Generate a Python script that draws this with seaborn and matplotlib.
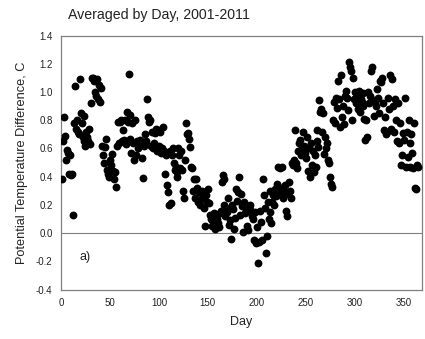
import numpy as np
import pandas as pd
import matplotlib
matplotlib.use("Agg")
import matplotlib.pyplot as plt
import seaborn as sns

values = [
    0.38, 0.65, 0.82, 0.69, 0.52, 0.59, 0.57, 0.42, 0.55, 0.41,
    0.42, 0.13, 0.78, 1.04, 0.74, 0.80, 0.72, 0.70, 1.09, 0.85,
    0.78, 0.68, 0.83, 0.65, 0.62, 0.72, 0.68, 0.65, 0.74, 0.63,
    0.92, 1.10, 1.10, 1.08, 1.00, 0.97, 1.09, 0.95, 1.05, 0.93,
    1.03, 0.62, 0.55, 0.50, 0.61, 0.67, 0.45, 0.42, 0.40, 0.52,
    0.48, 0.56, 0.44, 0.38, 0.43, 0.33, 0.62, 0.79, 0.64, 0.79,
    0.80, 0.65, 0.73, 0.66, 0.80, 0.63, 0.86, 0.79, 1.13, 0.84,
    0.67, 0.57, 0.78, 0.64, 0.52, 0.80, 0.55, 0.65, 0.60, 0.63,
    0.66, 0.64, 0.53, 0.39, 0.62, 0.70, 0.65, 0.95, 0.82, 0.79,
    0.80, 0.62, 0.72, 0.60, 0.64, 0.71, 0.74, 0.58, 0.73, 0.62,
    0.72, 0.57, 0.60, 0.75, 0.58, 0.42, 0.55, 0.34, 0.29, 0.20,
    0.58, 0.21, 0.55, 0.60, 0.50, 0.45, 0.47, 0.40, 0.43, 0.60,
    0.55, 0.46, 0.58, 0.45, 0.30, 0.25, 0.52, 0.78, 0.70, 0.71,
    0.67, 0.61, 0.47, 0.46, 0.30, 0.38, 0.25, 0.38, 0.32, 0.22,
    0.29, 0.20, 0.24, 0.30, 0.26, 0.18, 0.05, 0.27, 0.22, 0.31,
    0.21, 0.13, 0.10, 0.05, 0.08, 0.14, 0.03, 0.12, 0.10, 0.07,
    0.04, 0.14, 0.16, 0.36, 0.41, 0.38, 0.20, 0.12, 0.18, 0.15,
    0.25, 0.06, 0.09, -0.04, 0.20, 0.17, 0.03, 0.11, 0.31, 0.23,
    0.29, 0.40, 0.13, 0.28, 0.19, 0.01, 0.22, 0.14, 0.16, 0.05,
    0.02, 0.18, 0.20, 0.16, 0.12, 0.10, -0.05, 0.15, -0.07, 0.04,
    -0.21, -0.06, 0.16, 0.08, -0.05, 0.38, 0.27, 0.18, -0.14, -0.02,
    0.22, 0.10, 0.30, 0.15, 0.07, 0.22, 0.27, 0.20, 0.31, 0.26,
    0.35, 0.47, 0.29, 0.46, 0.32, 0.47, 0.25, 0.30, 0.34, 0.16,
    0.12, 0.28, 0.36, 0.30, 0.25, 0.50, 0.48, 0.52, 0.73, 0.50,
    0.46, 0.58, 0.64, 0.66, 0.55, 0.60, 0.72, 0.62, 0.57, 0.53,
    0.68, 0.44, 0.60, 0.40, 0.64, 0.48, 0.58, 0.43, 0.55, 0.47,
    0.73, 0.65, 0.61, 0.94, 0.86, 0.88, 0.72, 0.85, 0.56, 0.68,
    0.60, 0.64, 0.52, 0.50, 0.40, 0.35, 0.33, 0.80, 0.93, 0.78,
    0.96, 0.89, 1.08, 0.95, 0.75, 1.12, 0.82, 0.90, 0.77, 0.97,
    1.01, 0.96, 0.87, 1.21, 1.18, 1.15, 0.80, 1.10, 0.95, 1.00,
    0.92, 0.97, 0.88, 1.01, 0.86, 0.95, 0.93, 0.99, 0.90, 0.81,
    0.66, 0.80, 0.68, 1.00, 0.92, 0.97, 1.15, 1.18, 0.94, 0.83,
    0.93, 0.90, 1.02, 0.96, 0.85, 1.08, 1.07, 1.10, 0.92, 0.73,
    0.82, 0.70, 0.72, 0.96, 0.88, 1.12, 0.74, 1.09, 0.90, 0.72,
    0.95, 0.80, 0.65, 0.92, 0.64, 0.78, 0.48, 0.55, 0.71, 0.66,
    0.96, 0.47, 0.72, 0.54, 0.80, 0.64, 0.47, 0.70, 0.57, 0.46,
    0.78, 0.32, 0.31, 0.48, 0.47,
]
days = list(range(1, len(values) + 1))
xticks = [0, 50, 100, 150, 200, 250, 300, 350]
yticks = [-0.4, -0.2, 0.0, 0.2, 0.4, 0.6, 0.8, 1.0, 1.2, 1.4]

sns.set_style("white")
plt.rcParams['font.family'] = ['Liberation Sans', 'DejaVu Sans']

df = pd.DataFrame({"Day": days, "Diff": values})

fig = plt.figure(figsize=(4.25, 3.39), dpi=100)
ax = fig.add_axes([0.1435, 0.146, 0.85, 0.749])
sns.scatterplot(data=df, x="Day", y="Diff", ax=ax, color="black", s=32,
                linewidth=0, zorder=3)
ax.axhline(0, color="#808080", lw=0.8, zorder=2)
ax.set_xlim(0, 369)
ax.set_ylim(-0.4, 1.4)
ax.set_xticks(xticks)
ax.set_yticks(yticks)
ax.set_yticklabels([f"{t:.1f}" for t in yticks])
ax.tick_params(axis="both", direction="out", length=4, width=0.8,
               color="#808080", labelsize=7, pad=2, labelcolor="#222222")
for sp in ax.spines.values():
    sp.set_color("#808080")
    sp.set_linewidth(0.9)
ax.set_xlabel("Day", fontsize=9, labelpad=6, color="#222222")
ax.set_ylabel("Potential Temperature Difference, C", fontsize=9.2,
              labelpad=6, color="#222222")
ax.text(25, -0.17, "a)", fontsize=9, ha="center", va="center", color="#222222")
fig.text(68 / 425, 1 - 15 / 339, "Averaged by Day, 2001-2011", fontsize=10.2,
         ha="left", va="center", color="#222222")
fig.savefig("out.png", dpi=100)
